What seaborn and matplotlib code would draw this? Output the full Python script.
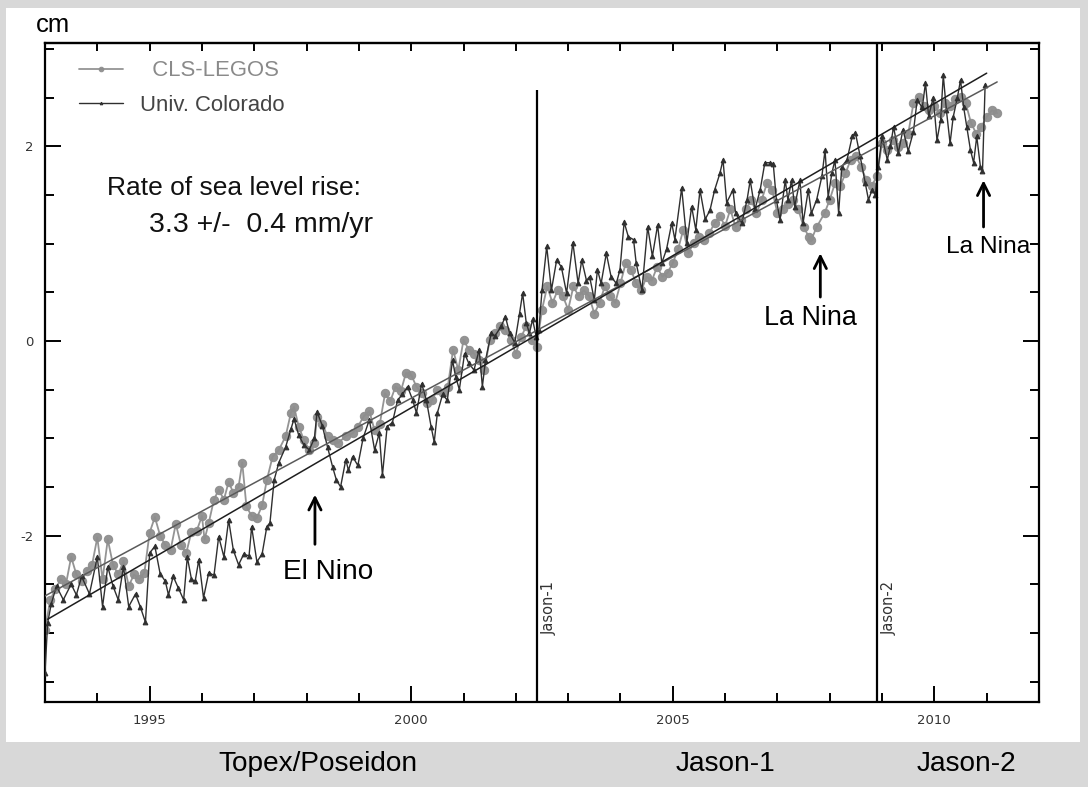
import matplotlib
matplotlib.use("Agg")
import matplotlib.pyplot as plt
from matplotlib.patches import Rectangle
from matplotlib.ticker import MultipleLocator, FixedLocator, NullFormatter
from matplotlib import font_manager
import pandas as pd
import seaborn as sns

# ---------------- data ----------------
cls_years = [1993.00, 1993.10, 1993.20, 1993.30, 1993.40, 1993.50, 1993.60, 1993.70, 1993.80, 1993.90,
             1994.00, 1994.10, 1994.20, 1994.30, 1994.40, 1994.50, 1994.60, 1994.70, 1994.80, 1994.90,
             1995.00, 1995.10, 1995.20, 1995.30, 1995.40, 1995.50, 1995.60, 1995.70, 1995.80, 1995.90,
             1996.00, 1996.05, 1996.13, 1996.23, 1996.32, 1996.42, 1996.51, 1996.60, 1996.70, 1996.77,
             1996.85, 1996.95, 1997.05, 1997.15, 1997.24, 1997.35, 1997.47, 1997.60, 1997.70, 1997.76,
             1997.85, 1997.95, 1998.05, 1998.15, 1998.20, 1998.30, 1998.40, 1998.50, 1998.60, 1998.75,
             1998.88, 1998.98, 1999.10, 1999.20, 1999.30, 1999.40, 1999.50, 1999.60, 1999.70, 1999.80,
             1999.90, 2000.00, 2000.10, 2000.20, 2000.30, 2000.40, 2000.50, 2000.60, 2000.70, 2000.80,
             2000.90, 2001.00, 2001.10, 2001.20, 2001.30, 2001.40, 2001.50, 2001.60, 2001.70, 2001.80,
             2001.90, 2002.00, 2002.10, 2002.20, 2002.30, 2002.40, 2002.50, 2002.60, 2002.70, 2002.80,
             2002.90, 2003.00, 2003.10, 2003.20, 2003.30, 2003.40, 2003.50, 2003.60, 2003.70, 2003.80,
             2003.90, 2004.00, 2004.10, 2004.20, 2004.30, 2004.40, 2004.50, 2004.60, 2004.70, 2004.80,
             2004.90, 2005.00, 2005.10, 2005.20, 2005.30, 2005.40, 2005.50, 2005.60, 2005.70, 2005.80,
             2005.90, 2006.00, 2006.10, 2006.20, 2006.30, 2006.40, 2006.50, 2006.60, 2006.70, 2006.80,
             2006.90, 2007.00, 2007.10, 2007.20, 2007.30, 2007.40, 2007.50, 2007.60, 2007.65, 2007.75,
             2007.90, 2008.00, 2008.10, 2008.20, 2008.30, 2008.40, 2008.50, 2008.60, 2008.70, 2008.80,
             2008.90, 2009.00, 2009.10, 2009.20, 2009.30, 2009.40, 2009.50, 2009.60, 2009.70, 2009.80,
             2009.90, 2010.00, 2010.10, 2010.20, 2010.30, 2010.40, 2010.50, 2010.60, 2010.70, 2010.80,
             2010.90, 2011.00, 2011.10, 2011.20]
cls_cm = [-2.97, -2.66, -2.55, -2.45, -2.50, -2.22, -2.40, -2.47, -2.36, -2.30,
          -2.02, -2.45, -2.04, -2.30, -2.40, -2.26, -2.52, -2.40, -2.45, -2.38,
          -1.97, -1.81, -2.00, -2.10, -2.15, -1.88, -2.10, -2.18, -1.96, -1.95,
          -1.80, -2.04, -1.87, -1.63, -1.53, -1.63, -1.45, -1.56, -1.50, -1.25,
          -1.70, -1.80, -1.82, -1.69, -1.43, -1.19, -1.12, -0.98, -0.74, -0.68,
          -0.88, -1.02, -1.12, -1.05, -0.78, -0.85, -0.98, -1.02, -1.05, -0.98,
          -0.95, -0.88, -0.77, -0.72, -0.92, -0.85, -0.54, -0.62, -0.47, -0.52,
          -0.33, -0.35, -0.47, -0.54, -0.64, -0.61, -0.50, -0.54, -0.47, -0.09,
          -0.30, 0.01, -0.09, -0.13, -0.20, -0.30, 0.01, 0.08, 0.15, 0.11,
          0.01, -0.13, 0.04, 0.15, 0.01, -0.06, 0.32, 0.56, 0.39, 0.52,
          0.46, 0.32, 0.56, 0.46, 0.52, 0.46, 0.28, 0.39, 0.56, 0.46,
          0.39, 0.59, 0.80, 0.73, 0.59, 0.52, 0.66, 0.62, 0.76, 0.66,
          0.70, 0.80, 0.94, 1.14, 0.90, 1.01, 1.07, 1.04, 1.11, 1.21,
          1.28, 1.18, 1.35, 1.17, 1.24, 1.35, 1.45, 1.31, 1.45, 1.62,
          1.55, 1.31, 1.35, 1.41, 1.45, 1.35, 1.17, 1.07, 1.04, 1.17,
          1.31, 1.45, 1.62, 1.59, 1.72, 1.86, 1.90, 1.79, 1.65, 1.59,
          1.69, 2.03, 1.96, 2.06, 1.99, 2.03, 2.13, 2.44, 2.51, 2.41,
          2.37, 2.41, 2.34, 2.44, 2.41, 2.48, 2.51, 2.44, 2.24, 2.13,
          2.20, 2.30, 2.37, 2.34]

cu_years = [1993.00, 1993.05, 1993.12, 1993.22, 1993.35, 1993.50, 1993.60, 1993.70, 1993.85, 1994.00,
            1994.10, 1994.20, 1994.30, 1994.40, 1994.50, 1994.60, 1994.73, 1994.82, 1994.92, 1995.00,
            1995.10, 1995.20, 1995.30, 1995.36, 1995.45, 1995.55, 1995.65, 1995.72, 1995.80, 1995.87,
            1995.94, 1996.03, 1996.13, 1996.23, 1996.32, 1996.42, 1996.51, 1996.60, 1996.70, 1996.80,
            1996.90, 1996.95, 1997.05, 1997.15, 1997.24, 1997.30, 1997.38, 1997.47, 1997.60, 1997.70,
            1997.76, 1997.85, 1997.95, 1998.05, 1998.15, 1998.20, 1998.30, 1998.40, 1998.50, 1998.57,
            1998.65, 1998.75, 1998.80, 1998.88, 1998.98, 1999.08, 1999.20, 1999.30, 1999.39, 1999.45,
            1999.54, 1999.64, 1999.74, 1999.83, 1999.93, 2000.03, 2000.10, 2000.20, 2000.29, 2000.38,
            2000.44, 2000.50, 2000.60, 2000.69, 2000.79, 2000.85, 2000.92, 2001.02, 2001.10, 2001.20,
            2001.30, 2001.36, 2001.42, 2001.53, 2001.60, 2001.72, 2001.80, 2001.88, 2001.98, 2002.07,
            2002.13, 2002.20, 2002.26, 2002.32, 2002.39, 2002.44, 2002.50, 2002.59, 2002.68, 2002.78,
            2002.87, 2002.97, 2003.09, 2003.19, 2003.26, 2003.35, 2003.41, 2003.50, 2003.56, 2003.63,
            2003.73, 2003.82, 2003.92, 2003.99, 2004.07, 2004.15, 2004.25, 2004.30, 2004.41, 2004.52,
            2004.61, 2004.71, 2004.79, 2004.88, 2004.98, 2005.04, 2005.17, 2005.27, 2005.36, 2005.44,
            2005.52, 2005.62, 2005.71, 2005.80, 2005.90, 2005.96, 2006.03, 2006.15, 2006.20, 2006.32,
            2006.42, 2006.48, 2006.57, 2006.67, 2006.76, 2006.86, 2006.92, 2006.98, 2007.05, 2007.15,
            2007.20, 2007.27, 2007.33, 2007.43, 2007.49, 2007.59, 2007.65, 2007.75, 2007.85, 2007.91,
            2007.97, 2008.04, 2008.10, 2008.17, 2008.23, 2008.33, 2008.43, 2008.49, 2008.58, 2008.68,
            2008.74, 2008.81, 2008.87, 2008.93, 2009.00, 2009.10, 2009.16, 2009.22, 2009.31, 2009.40,
            2009.50, 2009.60, 2009.67, 2009.77, 2009.83, 2009.89, 2009.98, 2010.05, 2010.12, 2010.17,
            2010.23, 2010.30, 2010.36, 2010.44, 2010.50, 2010.56, 2010.62, 2010.69, 2010.75, 2010.81,
            2010.88, 2010.92, 2010.97]
cu_cm = [-3.41, -2.90, -2.70, -2.52, -2.66, -2.50, -2.61, -2.42, -2.60, -2.22,
         -2.73, -2.32, -2.52, -2.66, -2.32, -2.73, -2.60, -2.73, -2.89, -2.18,
         -2.11, -2.39, -2.47, -2.61, -2.42, -2.54, -2.66, -2.22, -2.45, -2.47,
         -2.25, -2.64, -2.38, -2.41, -2.01, -2.22, -1.84, -2.15, -2.30, -2.19,
         -2.21, -1.91, -2.27, -2.19, -1.91, -1.87, -1.43, -1.25, -1.09, -0.91,
         -0.80, -0.97, -1.07, -1.12, -1.00, -0.73, -0.87, -1.09, -1.30, -1.43,
         -1.50, -1.22, -1.33, -1.19, -1.28, -1.00, -0.81, -1.12, -0.95, -1.38,
         -0.88, -0.84, -0.61, -0.55, -0.47, -0.61, -0.74, -0.44, -0.61, -0.88,
         -1.04, -0.74, -0.55, -0.61, -0.20, -0.37, -0.50, -0.13, -0.23, -0.30,
         -0.09, -0.47, -0.20, 0.08, 0.05, 0.15, 0.25, 0.08, -0.02, 0.28,
         0.49, 0.18, 0.08, 0.22, 0.04, 0.11, 0.52, 0.97, 0.52, 0.83,
         0.76, 0.49, 1.01, 0.59, 0.83, 0.62, 0.66, 0.42, 0.73, 0.59,
         0.90, 0.66, 0.59, 0.73, 1.22, 1.07, 1.04, 0.80, 0.52, 1.17,
         0.87, 1.19, 0.80, 0.94, 1.21, 1.04, 1.57, 1.01, 1.38, 1.14,
         1.55, 1.25, 1.34, 1.55, 1.72, 1.86, 1.42, 1.55, 1.31, 1.21,
         1.45, 1.65, 1.35, 1.55, 1.83, 1.83, 1.82, 1.45, 1.24, 1.65,
         1.45, 1.65, 1.38, 1.65, 1.21, 1.55, 1.31, 1.45, 1.69, 1.96,
         1.48, 1.72, 1.86, 1.31, 1.79, 1.86, 2.10, 2.14, 1.90, 1.62,
         1.45, 1.55, 1.50, 1.79, 2.10, 1.86, 2.00, 2.20, 1.93, 2.17,
         1.95, 2.15, 2.47, 2.40, 2.65, 2.31, 2.50, 2.06, 2.27, 2.73,
         2.37, 2.03, 2.30, 2.50, 2.68, 2.40, 2.20, 1.96, 1.83, 2.10,
         1.79, 1.74, 2.63]

trend_cls_years = [1993.0, 2011.2]
trend_cls_cm = [-2.62, 2.66]
trend_cu_years = [1993.05, 2011.0]
trend_cu_cm = [-2.86, 2.75]

mission_years = [2002.40, 2008.90]
mission_tops = [2.58, 3.06]
mission_labels = ["Jason-1", "Jason-2"]
band_labels = ["Topex/Poseidon", "Jason-1", "Jason-2"]
x_major = [1995, 2000, 2005, 2010]
y_major = [-2, 0, 2]

# ---------------- fonts ----------------
sns.set_style("white")
plt.rcParams["font.family"] = ["DejaVu Sans"]
plt.rcParams["axes.unicode_minus"] = False
_names = {f.name for f in font_manager.fontManager.ttflist}
if "Liberation Sans Narrow" in _names:
    NARROW, NSCALE = "Liberation Sans Narrow", 1.0
else:
    NARROW, NSCALE = "Liberation Sans", 0.84


def nfont(size):
    return dict(family=[NARROW, "DejaVu Sans"], fontsize=size * NSCALE)


W, H = 1088, 787
fig = plt.figure(figsize=(W / 100, H / 100), dpi=100, facecolor="#d8d8d8")


def fx(px):
    return px / W


def fy(py):
    return 1 - py / H


fig.patches.append(Rectangle((fx(6), fy(742)), fx(1080) - fx(6), fy(8) - fy(742),
                             transform=fig.transFigure, facecolor="white",
                             edgecolor="none", zorder=-10))

ax = fig.add_axes([fx(45), fy(702), fx(1039) - fx(45), fy(43) - fy(702)])
ax.set_facecolor("white")

cls_df = pd.DataFrame({"year": cls_years, "cm": cls_cm})
cu_df = pd.DataFrame({"year": cu_years, "cm": cu_cm})

sns.lineplot(data=cls_df, x="year", y="cm", ax=ax, color="#8e8e8e", lw=1.3,
             marker="o", markersize=6, markeredgecolor="#8e8e8e", alpha=0.95,
             estimator=None, sort=False, label="  CLS-LEGOS", zorder=2)
sns.lineplot(data=cu_df, x="year", y="cm", ax=ax, color="#2f2f2f", lw=1.0,
             marker="^", markersize=3.4, markeredgecolor="#2f2f2f",
             estimator=None, sort=False, label="Univ. Colorado", zorder=3)
sns.lineplot(x=trend_cls_years, y=trend_cls_cm, ax=ax, color="#5a5a5a", lw=1.1,
             estimator=None, label="_trend_cls", zorder=4)
sns.lineplot(x=trend_cu_years, y=trend_cu_cm, ax=ax, color="#1e1e1e", lw=1.1,
             estimator=None, label="_trend_cu", zorder=4)

ax.vlines(mission_years, -3.71, mission_tops, colors="black", lw=1.6, zorder=5)
for xm, lab in zip(mission_years, mission_labels):
    ax.annotate(lab, xy=(xm, -2.74), xytext=(3.5, 0), textcoords="offset points",
                rotation=90, ha="left", va="center", fontsize=10.5, color="#333333")

ax.set_xlim(1993.0, 2012.0)
ax.set_ylim(-3.71, 3.06)
ax.set_xlabel("")
ax.set_ylabel("")
ax.xaxis.set_major_locator(FixedLocator(x_major))
ax.xaxis.set_minor_locator(MultipleLocator(1))
ax.yaxis.set_major_locator(FixedLocator(y_major))
ax.yaxis.set_minor_locator(MultipleLocator(0.5))
ax.tick_params(which="both", direction="in", colors="black", width=1.4,
               left=True, right=True, bottom=True, top=False,
               labelcolor="#333333", labelsize=9.5)
ax.tick_params(which="major", length=11.5)
ax.tick_params(which="minor", length=6.5)
ax.tick_params(axis="x", which="major", pad=9)
ax.tick_params(axis="y", which="major", pad=8)
top = ax.secondary_xaxis("top")
top.xaxis.set_major_locator(MultipleLocator(1))
top.xaxis.set_major_formatter(NullFormatter())
top.tick_params(which="major", direction="in", length=6, width=1.4, colors="black")
top.spines["top"].set_linewidth(1.6)
for s in ax.spines.values():
    s.set_visible(True)
    s.set_color("black")
    s.set_linewidth(1.6)

leg = ax.legend(loc="upper left", bbox_to_anchor=(0.025, 0.987), frameon=False,
                handlelength=2.0, handletextpad=0.75, labelspacing=0.6,
                borderaxespad=0, markerscale=0.55,
                prop=dict(family=[NARROW, "DejaVu Sans"], size=19 * NSCALE))
for t, c in zip(leg.get_texts(), ["#8a8a8a", "#444444"]):
    t.set_color(c)

# annotations
arrow = dict(arrowstyle="->", lw=2.0, color="black", shrinkA=0, shrinkB=0, mutation_scale=22)
ax.annotate("", xy=(1998.16, -1.58), xytext=(1998.16, -2.09), arrowprops=arrow)
ax.text(1998.42, -2.45, "El Nino", ha="center", va="baseline", color="black", **nfont(24))
ax.annotate("", xy=(2007.82, 0.90), xytext=(2007.82, 0.45), arrowprops=arrow)
ax.text(2007.64, 0.16, "La Nina", ha="center", va="baseline", color="black", **nfont(23))
ax.annotate("", xy=(2010.94, 1.65), xytext=(2010.94, 1.17), arrowprops=arrow)
ax.text(2011.02, 0.90, "La Nina", ha="center", va="baseline", color="black", **nfont(21))

fig.text(fx(234), fy(195), "Rate of sea level rise:", ha="center", va="baseline",
         family=["Liberation Sans", "DejaVu Sans"], fontsize=19, color="#111111")
fig.text(fx(261), fy(232), "3.3 +/-  0.4 mm/yr", ha="center", va="baseline",
         family=["Liberation Sans", "DejaVu Sans"], fontsize=20.5, color="#111111")

fig.text(fx(36), fy(32), "cm", ha="left", va="baseline", color="black", **nfont(22))
for cx, lab in zip([318, 725, 966], band_labels):
    fig.text(fx(cx), fy(771), lab, ha="center", va="baseline", color="black", **nfont(24))

fig.savefig("out.png", dpi=100, facecolor=fig.get_facecolor())
